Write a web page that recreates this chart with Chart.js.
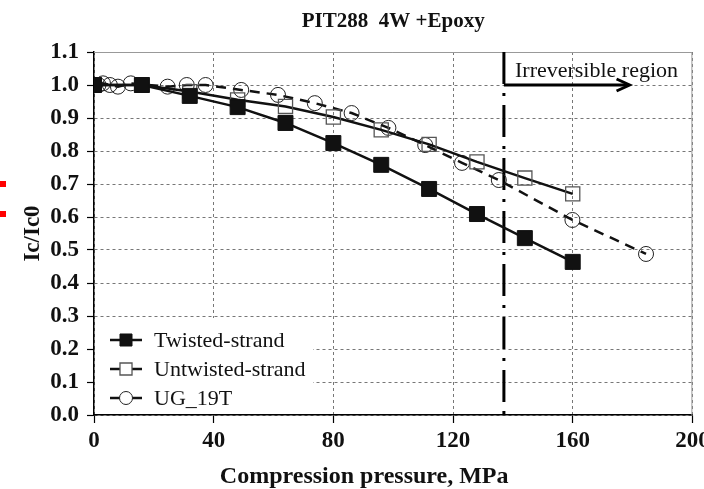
<!DOCTYPE html>
<html>
<head>
<meta charset="utf-8">
<script src="https://cdn.jsdelivr.net/npm/chart.js@4/dist/chart.umd.min.js"></script>
<style>
  html, body { margin: 0; padding: 0; background: #fff; }
  #wrap { position: relative; width: 704px; height: 489px; }
  .mark { position: absolute; left: 0; width: 6px; height: 6px; background: #f00; }
</style>
</head>
<body>
<div id="wrap">
  <canvas id="c" width="704" height="489"></canvas>
  <div class="mark" style="top:181px"></div>
  <div class="mark" style="top:211px"></div>
</div>
<script>
// Compression pressure (MPa) and normalised critical current Ic/Ic0
const pressureTwisted   = [0, 16, 32, 48, 64, 80, 96, 112, 128, 144, 160];
const icTwisted         = [1.0, 1.0, 0.967, 0.933, 0.885, 0.824, 0.758, 0.685, 0.609, 0.536, 0.464];

const pressureUntwisted = [0, 16, 32, 48, 64, 80, 96, 112, 128, 144, 160];
const icUntwisted       = [1.0, 1.0, 0.98, 0.955, 0.935, 0.903, 0.864, 0.82, 0.767, 0.718, 0.67];

const pressureUG        = [1.5, 3, 5.3, 8, 12.3, 24.6, 31, 37.3, 49.2, 61.5, 73.8, 86.1, 98.4, 110.7, 123, 135.3, 159.9, 184.5];
const icUG              = [1.0, 1.005, 1.0, 0.995, 1.005, 0.995, 1.0, 1.0, 0.985, 0.97, 0.945, 0.915, 0.87, 0.818, 0.764, 0.712, 0.591, 0.488];

const seriesNames = ['Twisted-strand', 'Untwisted-strand', 'UG_19T'];
const xTicks = [0, 40, 80, 120, 160, 200];
const yTicks = [0.0, 0.1, 0.2, 0.3, 0.4, 0.5, 0.6, 0.7, 0.8, 0.9, 1.0, 1.1];
const xAxisTitle = 'Compression pressure, MPa';
const irreversibleStart = 137;   // MPa
const irreversibleArrowEnd = 179;

const toPoints = (xs, ys) => xs.map((x, i) => ({ x: x, y: ys[i] }));

const SERIF = '"Liberation Serif", "Times New Roman", serif';

const datasets = [
  {
    label: seriesNames[0],
    data: toPoints(pressureTwisted, icTwisted),
    showLine: true,
    borderColor: '#111',
    borderWidth: 2.5,
    pointStyle: 'rect',
    pointRadius: 10.6,
    pointBackgroundColor: '#111',
    pointBorderColor: '#111',
    pointBorderWidth: 1,
    legendRadius: 8.5
  },
  {
    label: seriesNames[1],
    data: toPoints(pressureUntwisted, icUntwisted),
    showLine: true,
    borderColor: '#111',
    borderWidth: 2.5,
    pointStyle: 'rect',
    pointRadius: 10,
    pointBackgroundColor: 'rgba(0,0,0,0)',
    pointBorderColor: '#555',
    pointBorderWidth: 1.3,
    legendRadius: 8.5
  },
  {
    label: seriesNames[2],
    data: toPoints(pressureUG, icUG),
    showLine: true,
    borderColor: '#111',
    borderWidth: 2.5,
    borderDash: [10, 7],
    pointStyle: 'circle',
    pointRadius: 7.5,
    pointBackgroundColor: 'rgba(0,0,0,0)',
    pointBorderColor: '#222',
    pointBorderWidth: 1,
    legendRadius: 6.5
  }
];

// Frame, irreversible-region marker, x-axis caption and the in-plot legend
const decor = {
  id: 'decor',
  beforeDatasetsDraw(chart) {
    const { ctx, chartArea: a, scales: { x } } = chart;
    ctx.save();
    // light top / right frame
    ctx.strokeStyle = '#999';
    ctx.lineWidth = 1;
    ctx.beginPath();
    ctx.moveTo(a.left, a.top + 0.5);
    ctx.lineTo(a.right - 0.5, a.top + 0.5);
    ctx.lineTo(a.right - 0.5, a.bottom);
    ctx.stroke();
    // dash-dot boundary of the irreversible region
    const xb = x.getPixelForValue(irreversibleStart);
    ctx.strokeStyle = '#000';
    ctx.lineWidth = 3;
    ctx.setLineDash([32, 9, 3, 9]);
    ctx.beginPath();
    ctx.moveTo(xb, a.top);
    ctx.lineTo(xb, a.bottom);
    ctx.stroke();
    ctx.restore();
  },
  afterDraw(chart) {
    const { ctx, chartArea: a, scales: { x, y } } = chart;
    ctx.save();
    // arrow + label
    const x0 = x.getPixelForValue(irreversibleStart);
    const x1 = x.getPixelForValue(irreversibleArrowEnd);
    const ya = y.getPixelForValue(1.0);
    ctx.strokeStyle = '#000';
    ctx.lineWidth = 3;
    ctx.setLineDash([]);
    ctx.beginPath();
    ctx.moveTo(x0, ya);
    ctx.lineTo(x1 - 2, ya);
    ctx.stroke();
    ctx.beginPath();
    ctx.moveTo(x1 - 13, ya - 6);
    ctx.lineTo(x1, ya);
    ctx.lineTo(x1 - 13, ya + 6);
    ctx.stroke();
    ctx.fillStyle = '#111';
    ctx.font = '22px ' + SERIF;
    ctx.textAlign = 'left';
    ctx.textBaseline = 'alphabetic';
    ctx.fillText('Irreversible region', x.getPixelForValue(140.7), y.getPixelForValue(1.025));

    // x-axis caption, set slightly left of the plot centre
    ctx.font = 'bold 24px ' + SERIF;
    ctx.textAlign = 'center';
    ctx.textBaseline = 'alphabetic';
    ctx.fillText(xAxisTitle, x.getPixelForValue(90.3), 483);

    // legend
    const lx = a.left + 1, ly = a.bottom - 97;
    ctx.fillStyle = '#fff';
    ctx.fillRect(lx, ly, 218, 96);
    chart.data.datasets.forEach((ds, i) => {
      const ry = ly + 22 + i * 29;
      ctx.strokeStyle = '#111';
      ctx.lineWidth = 2.5;
      ctx.setLineDash([]);
      ctx.beginPath();
      ctx.moveTo(lx + 15, ry);
      ctx.lineTo(lx + 47, ry);
      ctx.stroke();
      ctx.fillStyle = ds.pointBackgroundColor === 'rgba(0,0,0,0)' ? '#fff' : ds.pointBackgroundColor;
      ctx.strokeStyle = ds.pointBorderColor;
      ctx.lineWidth = ds.pointBorderWidth;
      Chart.helpers.drawPoint(ctx, {
        pointStyle: ds.pointStyle,
        radius: ds.legendRadius,
        borderWidth: ds.pointBorderWidth,
        rotation: 0
      }, lx + 31, ry);
      ctx.fillStyle = '#111';
      ctx.font = '22px ' + SERIF;
      ctx.textAlign = 'left';
      ctx.textBaseline = 'middle';
      ctx.fillText(ds.label, lx + 59, ry + 1);
    });
    ctx.restore();
  }
};

new Chart(document.getElementById('c'), {
  type: 'scatter',
  data: { datasets: datasets },
  plugins: [decor],
  options: {
    responsive: false,
    animation: false,
    events: [],
    layout: { padding: { left: 0, right: 11, top: 0, bottom: 0 } },
    plugins: {
      legend: { display: false },
      tooltip: { enabled: false },
      title: {
        display: true,
        text: 'PIT288  4W +Epoxy',
        fullSize: false,
        color: '#111',
        font: { family: SERIF, size: 21, weight: 'bold' },
        padding: { top: 9, bottom: 17.8 }
      }
    },
    scales: {
      x: {
        type: 'linear',
        min: 0, max: 200,
        afterFit(scale) { scale.height = 74; scale.paddingLeft = 0; scale.paddingRight = 0; },
        afterBuildTicks(scale) { scale.ticks = xTicks.map(v => ({ value: v })); },
        ticks: {
          color: '#111',
          padding: 4,
          maxRotation: 0,
          font: { family: SERIF, size: 23, weight: 'bold' },
          callback: v => String(v)
        },
        grid: {
          color: '#777',
          lineWidth: 1,
          tickColor: '#000',
          tickWidth: 1.2,
          tickLength: 8,
          tickBorderDash: []
        },
        border: { display: true, color: '#000', width: 1.5, dash: [3, 3] },
        title: { display: false }
      },
      y: {
        type: 'linear',
        min: 0, max: 1.1,
        afterFit(scale) { scale.width = 94; scale.paddingTop = 0; scale.paddingBottom = 0; },
        afterBuildTicks(scale) { scale.ticks = yTicks.map(v => ({ value: v })); },
        ticks: {
          color: '#111',
          padding: 8,
          font: { family: SERIF, size: 23, weight: 'bold' },
          callback: v => Number(v).toFixed(1)
        },
        grid: {
          color: '#777',
          lineWidth: 1,
          tickColor: '#000',
          tickWidth: 1.2,
          tickLength: 7,
          tickBorderDash: []
        },
        border: { display: true, color: '#000', width: 1.5, dash: [3, 3] },
        title: {
          display: true,
          text: 'Ic/Ic0',
          color: '#111',
          font: { family: SERIF, size: 23, weight: 'bold' },
          padding: { top: 19, bottom: 0 }
        }
      }
    }
  }
});
</script>
</body>
</html>
